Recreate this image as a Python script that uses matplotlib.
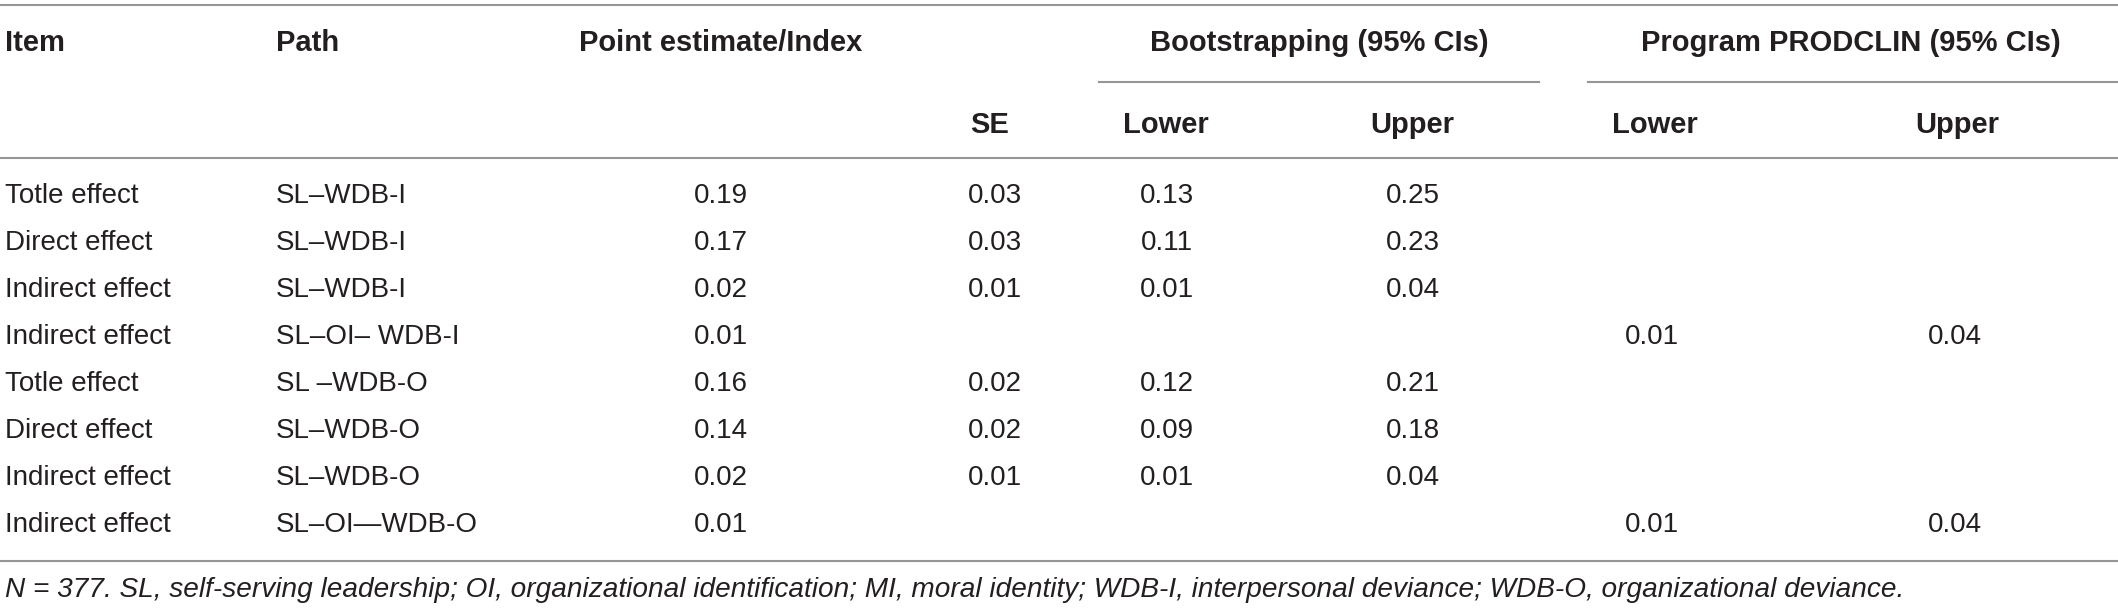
import matplotlib
matplotlib.use("Agg")
from matplotlib import pyplot as plt

plt.rcParams['font.family'] = ['Liberation Sans', 'DejaVu Sans']

# table content
items = ["Totle effect", "Direct effect", "Indirect effect", "Indirect effect",
         "Totle effect", "Direct effect", "Indirect effect", "Indirect effect"]
paths = ["SL\u2013WDB-I", "SL\u2013WDB-I", "SL\u2013WDB-I", "SL\u2013OI\u2013 WDB-I",
         "SL \u2013WDB-O", "SL\u2013WDB-O", "SL\u2013WDB-O", "SL\u2013OI\u2014WDB-O"]
point_est = ["0.19", "0.17", "0.02", "0.01", "0.16", "0.14", "0.02", "0.01"]
se = ["0.03", "0.03", "0.01", "", "0.02", "0.02", "0.01", ""]
boot_lower = ["0.13", "0.11", "0.01", "", "0.12", "0.09", "0.01", ""]
boot_upper = ["0.25", "0.23", "0.04", "", "0.21", "0.18", "0.04", ""]
prod_lower = ["", "", "", "0.01", "", "", "", "0.01"]
prod_upper = ["", "", "", "0.04", "", "", "", "0.04"]
note = ("N = 377. SL, self-serving leadership; OI, organizational identification; "
        "MI, moral identity; WDB-I, interpersonal deviance; WDB-O, organizational deviance.")

W, H = 2118, 609
fig = plt.figure(figsize=(W / 100, H / 100), dpi=100)
ax = fig.add_axes([0, 0, 1, 1])
ax.set_xlim(0, W)
ax.set_ylim(H, 0)
ax.axis('off')

txt = '#231f20'
line_c = '#969696'
fs = 20
hfs = 21

# rules
ax.plot([0, W], [5, 5], color=line_c, lw=1.5)
ax.plot([1099, 1539], [82, 82], color=line_c, lw=1.5)
ax.plot([1588, W], [82, 82], color=line_c, lw=1.5)
ax.plot([0, W], [158, 158], color=line_c, lw=1.5)
ax.plot([0, W], [561, 561], color=line_c, lw=1.5)

# headers
hy1, hy2 = 43, 125
ax.text(5, hy1, "Item", fontsize=hfs, fontweight='bold', color=txt, va='center')
ax.text(276, hy1, "Path", fontsize=hfs, fontweight='bold', color=txt, va='center')
ax.text(721, hy1, "Point estimate/Index", fontsize=hfs, fontweight='bold', color=txt,
        va='center', ha='center')
ax.text(1319, hy1, "Bootstrapping (95% CIs)", fontsize=hfs, fontweight='bold', color=txt,
        va='center', ha='center')
ax.text(1851, hy1, "Program PRODCLIN (95% CIs)", fontsize=hfs, fontweight='bold', color=txt,
        va='center', ha='center')
ax.text(990, hy2, "SE", fontsize=hfs, fontweight='bold', color=txt, va='center', ha='center')
ax.text(1166, hy2, "Lower", fontsize=hfs, fontweight='bold', color=txt, va='center', ha='center')
ax.text(1412, hy2, "Upper", fontsize=hfs, fontweight='bold', color=txt, va='center', ha='center')
ax.text(1655, hy2, "Lower", fontsize=hfs, fontweight='bold', color=txt, va='center', ha='center')
ax.text(1957, hy2, "Upper", fontsize=hfs, fontweight='bold', color=txt, va='center', ha='center')

# body rows
row_y = [196, 243, 290, 337, 384, 431, 478, 525]
for i, y in enumerate(row_y):
    ax.text(5, y, items[i], fontsize=fs, color=txt, va='center')
    ax.text(276, y, paths[i], fontsize=fs, color=txt, va='center')
    ax.text(721, y, point_est[i], fontsize=fs, color=txt, va='center', ha='center')
    ax.text(995, y, se[i], fontsize=fs, color=txt, va='center', ha='center')
    ax.text(1167, y, boot_lower[i], fontsize=fs, color=txt, va='center', ha='center')
    ax.text(1413, y, boot_upper[i], fontsize=fs, color=txt, va='center', ha='center')
    ax.text(1652, y, prod_lower[i], fontsize=fs, color=txt, va='center', ha='center')
    ax.text(1955, y, prod_upper[i], fontsize=fs, color=txt, va='center', ha='center')

ax.text(5, 590, note, fontsize=20.2, style='italic', color=txt, va='center')

fig.savefig("out.png", dpi=100)
